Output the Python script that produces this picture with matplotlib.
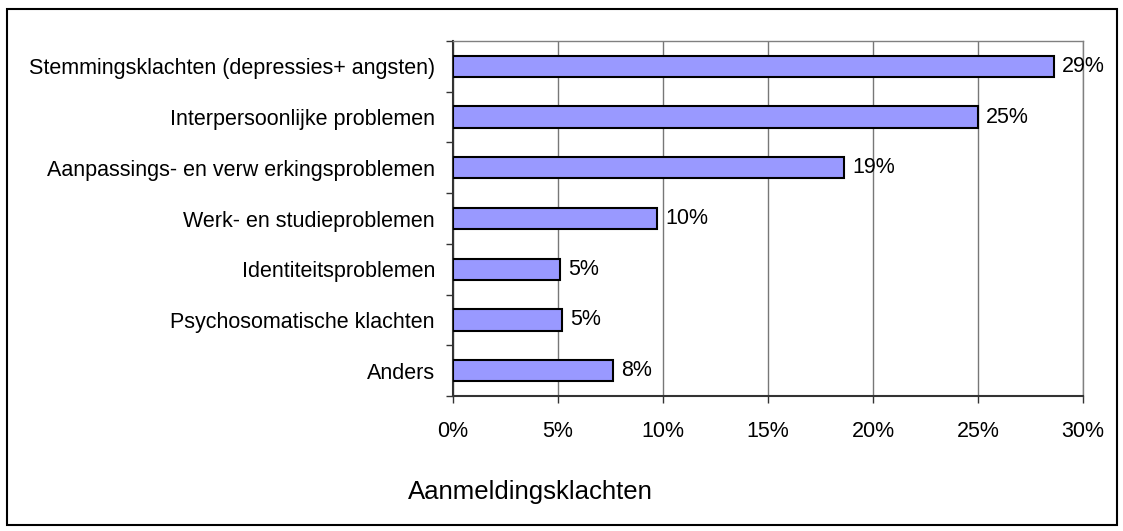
import matplotlib
matplotlib.use("Agg")
import matplotlib.pyplot as plt
from matplotlib.ticker import MultipleLocator, FuncFormatter, FixedLocator
from matplotlib.patches import Rectangle

plt.rcParams['font.family'] = ['Liberation Sans', 'DejaVu Sans']

categories = [
    "Stemmingsklachten (depressies+ angsten)",
    "Interpersoonlijke problemen",
    "Aanpassings- en verw erkingsproblemen",
    "Werk- en studieproblemen",
    "Identiteitsproblemen",
    "Psychosomatische klachten",
    "Anders",
]
values = [28.6, 25.0, 18.6, 9.7, 5.1, 5.2, 7.6]
title = "Aanmeldingsklachten"

W, H = 1123, 531
fig = plt.figure(figsize=(W / 100, H / 100), dpi=100)

# axes placement in pixels: left 453, right 1083, top 41, bottom 396
ax = fig.add_axes([453 / W, 1 - 396 / H, 630 / W, 355 / H])

n = len(categories)
pos = list(range(n))
ax.barh(pos, values, height=0.42, color="#9999FF", edgecolor="black",
        linewidth=1.5, zorder=3)

for p, v in zip(pos, values):
    ax.annotate(f"{v:.0f}%", (v, p), xytext=(6, 0), textcoords="offset points",
                va="center", ha="left", fontsize=15.5, zorder=4)

ax.set_xlim(0, 30)
ax.set_ylim(n - 0.5, -0.5)
ax.xaxis.set_major_locator(MultipleLocator(5))
ax.xaxis.set_major_formatter(FuncFormatter(lambda x, _: f"{x:.0f}%"))
ax.tick_params(axis="x", labelsize=15.5, length=5, width=1, color="#333333", pad=13)

ax.set_yticks(pos)
ax.set_yticklabels(categories, fontsize=15.5)
ax.tick_params(axis="y", which="major", length=0, pad=13)
ax.yaxis.set_minor_locator(FixedLocator([i - 0.5 for i in range(n + 1)]))
ax.tick_params(axis="y", which="minor", length=5, width=1, color="#333333")

ax.grid(axis="x", color="#777777", linewidth=1, zorder=0)
for s in ["top", "right"]:
    ax.spines[s].set_color("#808080")
    ax.spines[s].set_linewidth(1)
for s in ["left", "bottom"]:
    ax.spines[s].set_color("#333333")
    ax.spines[s].set_linewidth(1.5)

fig.text(530 / W, 1 - 492 / H, title, ha="center", va="center", fontsize=18.5)

fig.patches.append(Rectangle((7 / W, 1 - 525 / H), (1117 - 7) / W, (525 - 9) / H,
                             transform=fig.transFigure, fill=False,
                             edgecolor="black", linewidth=1.5))

fig.savefig("out.png", dpi=100)
